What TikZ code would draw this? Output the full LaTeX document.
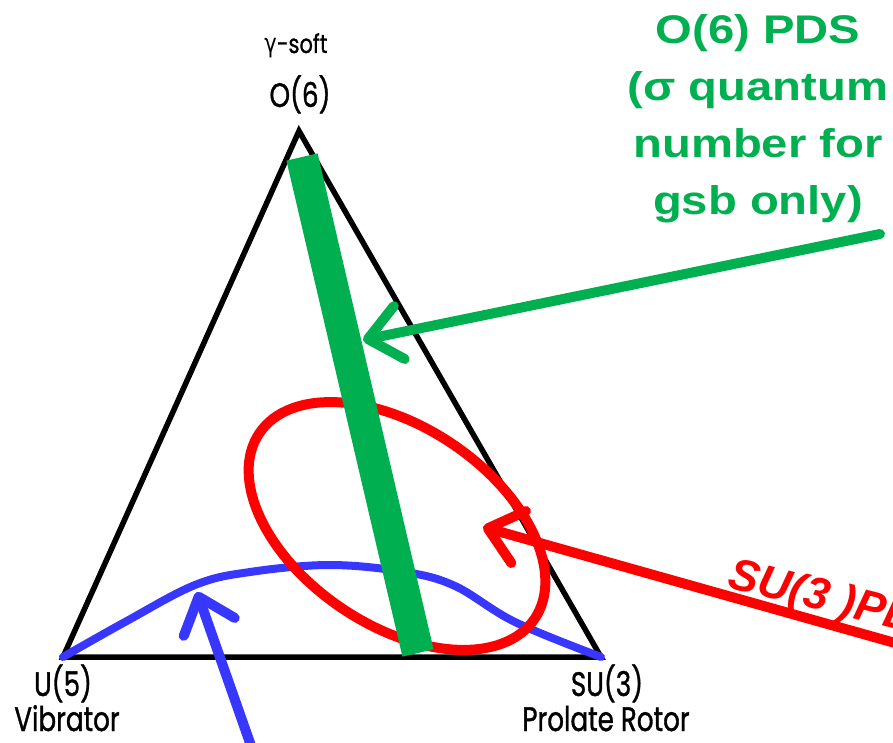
\documentclass[tikz,border=0pt]{standalone}
\usepackage{fontspec}
\setmainfont{Liberation Sans}
\newfontfamily\gothic[FakeBold=1.2]{Poppins}
\newfontfamily\greekfont{DejaVu Sans}
\usetikzlibrary{arrows.meta,positioning}
\definecolor{pdsgreen}{RGB}{0,176,80}
\definecolor{pdsred}{RGB}{255,0,0}
\definecolor{pdsblue}{RGB}{55,55,255}

\begin{document}
\begin{tikzpicture}[
  x = 1pt, y = -1pt,
  vname/.style  = {font=\gothic\fontsize{34}{36}\selectfont, inner sep=0pt,
                   transform shape, xscale=0.77, anchor=base},
  edge/.style   = {line width=5.5pt, line join=miter},
  bar/.style    = {line width=32pt, draw=pdsgreen},
  ring/.style   = {line width=10pt, draw=pdsred},
  crest/.style  = {line width=8pt, draw=pdsblue, line cap=round},
  pointer/.style= {line width=10pt, line cap=round,
                   -{Straight Barb[length=32pt,width=54pt,round]}},
  tag/.style    = {font=\bfseries\fontsize{40}{57}\selectfont, inner sep=0pt},
]
\useasboundingbox (0,0) rectangle (893,743);
\clip (0,0) rectangle (893,743);

% Corners of the triangle
\coordinate (o6)  at (299,131);
\coordinate (u5)  at (63,657);
\coordinate (su3) at (601,657);
\draw[edge] (o6) -- (u5) -- (su3) -- cycle;

% Corner labels
\node[vname, font=\gothic\fontsize{26}{30}\selectfont, xscale=1.05] (soft) at (296,53) {{\greekfont γ}-soft};
\node[vname] (o6name)  at (300,107) {O(6)};
\node[vname] (u5name)  at (63,696)  {U(5)};
\node[vname] (u5kind)  at (67,731)  {Vibrator};
\node[vname] (su3name) at (607,696) {SU(3)};
\node[vname] (su3kind) at (606,731) {Prolate Rotor};

% Blue curve across the bottom
\draw[crest] plot[smooth, tension=0.6] coordinates {(u5) (125,622) (195,585)
  (250,572) (330,565) (405,572) (455,586) (515,622) (su3)};

% Red ellipse
\coordinate (ell) at (397,526);
\draw[ring, rotate around={-34:(ell)}] (ell) ellipse [x radius=166pt, y radius=99pt];

% Green bar
\coordinate (bartop) at (302,157);
\coordinate (barbot) at (418,653);
\draw[bar] (bartop) -- (barbot);

% Pointers
\coordinate (gfrom) at (880,234);
\coordinate (gto)   at (363,340);
\coordinate (rfrom) at (920,650);
\coordinate (rto)   at (483,527);
\coordinate (bfrom) at (256,760);
\coordinate (bto)   at (197,592);
\draw[pointer, pdsgreen] (gfrom) -- (gto);
\draw[pointer, pdsred]   (rfrom) -- (rto);
\draw[pointer, pdsblue]  (bfrom) -- (bto);

% Texts
\node[tag, text=pdsgreen, align=center, anchor=north, transform shape, xscale=1.18]
  (o6pds) at (758,14) {O(6) PDS\\(σ quantum\\number for\\gsb only)};
\node[tag, text=pdsred, font=\bfseries\itshape\fontsize{45}{50}\selectfont,
  rotate=-14, anchor=base west] (su3pds) at (726,587) {SU(3 )PDS};

\end{tikzpicture}
\end{document}
